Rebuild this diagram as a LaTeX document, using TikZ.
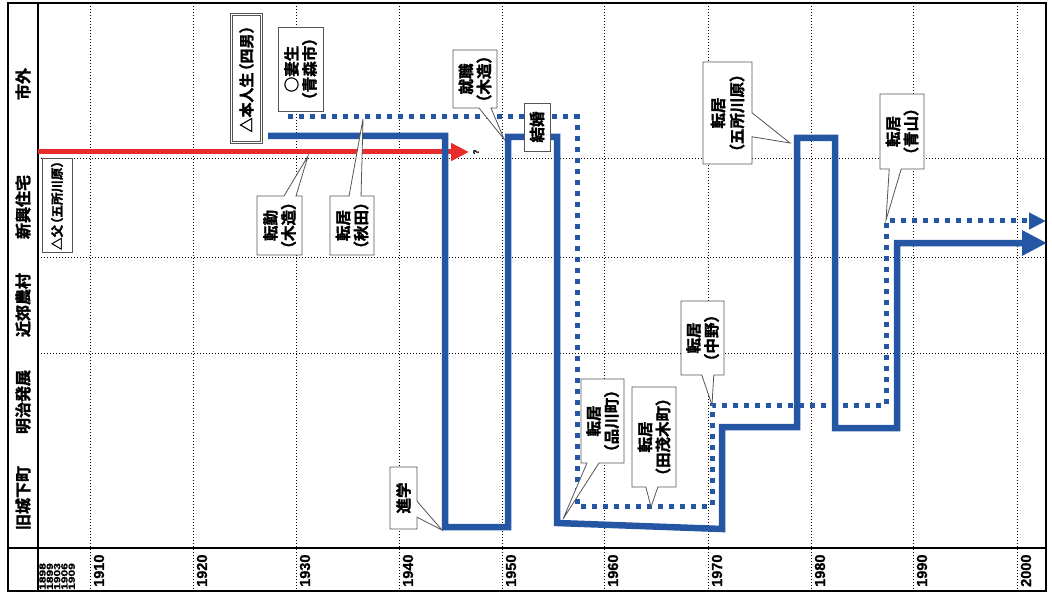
\documentclass[tikz,border=0pt]{standalone}
\usepackage{fontspec}
\usepackage{graphicx}
\usetikzlibrary{arrows.meta,shapes.callouts}
\newfontfamily\jp{Noto Sans CJK JP}[BoldFont={Noto Sans CJK JP Bold}, BoldFeatures={FakeBold=1.8}]
\newfontfamily\numf{Liberation Sans}[BoldFeatures={FakeBold=0.8}]
\definecolor{lifeblue}{RGB}{36,86,164}
\definecolor{lifered}{RGB}{232,44,44}
\definecolor{boxgray}{RGB}{85,85,85}
\newcommand\sy[1]{\scalebox{1}[0.75]{#1}}
\newcommand\lp{\kern-0.4em（}
\newcommand\rp{）\kern-0.4em}
\begin{document}
\begin{tikzpicture}[x=1pt,y=-1pt,
  gridline/.style={line width=0.9pt, dash pattern=on 1.2pt off 1.8pt},
  frameline/.style={line width=2.4pt},
  rowlab/.style={rotate=90, font=\jp\bfseries\fontsize{16}{16}\selectfont, inner sep=0pt},
  yearlab/.style={rotate=90, anchor=west, font=\numf\bfseries\fontsize{14.5}{14.5}\selectfont, inner sep=0pt},
  smallyear/.style={rotate=90, anchor=west, font=\numf\bfseries\fontsize{12}{12}\selectfont, inner sep=0pt},
  solidlife/.style={draw=lifeblue, line width=6.5pt, line join=miter},
  dotlife/.style={draw=lifeblue, line width=5pt, dash pattern=on 5pt off 6pt},
  co/.style={rectangle callout, draw=boxgray, line width=0.8pt, fill=white, inner sep=0pt, callout pointer width=12pt},
  pbox/.style={rectangle, draw=boxgray, line width=0.8pt, fill=white, inner sep=0pt},
  cotext/.style={rotate=90, inner sep=0pt, font=\jp\bfseries\fontsize{15.5}{15.5}\selectfont},
]
\useasboundingbox (0,0) rectangle (1052,596);

% grid
\foreach \x in {90,193,296,399,502,604,708,811,913,1017}
  \draw[gridline] (\x,3) -- (\x,591);
\foreach \y in {158,257,353}
  \draw[gridline] (38,\y) -- (1046,\y);

% frame
\draw[frameline] (8,3) rectangle (1046,591);
\draw[frameline] (38,3) -- (38,591);
\draw[frameline] (8,548) -- (1046,548);

% row labels
\node[rowlab] (r1) at (23,84) {市外};
\node[rowlab] (r2) at (23,207) {新興住宅};
\node[rowlab] (r3) at (23,305) {近郊農村};
\node[rowlab] (r4) at (23,402) {明治発展};
\node[rowlab] (r5) at (23,498) {旧城下町};

% year labels
\node[smallyear] (y1898) at (42.5,590) {\sy{1898}};
\node[smallyear] (y1899) at (49.8,590) {\sy{1899}};
\node[smallyear] (y1903) at (57.1,590) {\sy{1903}};
\node[smallyear] (y1906) at (64.4,590) {\sy{1906}};
\node[smallyear] (y1909) at (71.7,590) {\sy{1909}};
\foreach \x/\t in {90/1910,193/1920,296/1930,399/1940,502/1950,604/1960,708/1970,811/1980,913/1990,1017/2000}
  \node[yearlab] (y\t) at (\x+9,587) {\t};

% father (red)
\coordinate (rs) at (38,152);
\coordinate (re) at (469,152);
\draw[draw=lifered, line width=5pt, -{Triangle[length=18pt,width=17pt]}] (rs) -- (re);
\node[rotate=90, font=\numf\bfseries\fontsize{8}{8}\selectfont, inner sep=0pt] (q) at (476,152) {?};

% self (solid blue)
\coordinate (ss) at (268,136);
\coordinate (se) at (1047,243);
\draw[solidlife, -{Triangle[length=25pt,width=24pt]}] (ss) -- (445,136) -- (445,527) -- (508,527) -- (508,137) -- (557,137) -- (557,523) -- (722,529) -- (722,427) -- (797,427) -- (797,138) -- (835,138) -- (835,428) -- (897,428) -- (897,243) -- (se);

% wife (dotted blue)
\coordinate (ws) at (288,117);
\coordinate (we) at (1046,221);
\draw[dotlife, -{Triangle[length=17pt,width=16pt]}] (ws) -- (577,117) -- (577,506) -- (712,506) -- (712,405) -- (886,405) -- (886,221) -- (we);

% callout tips
\coordinate (tA) at (308,156);
\coordinate (tB) at (363,119);
\coordinate (tC) at (504,139);
\coordinate (tD) at (442,530);
\coordinate (tE) at (563,519);
\coordinate (tF) at (651,507);
\coordinate (tG) at (712,405);
\coordinate (tH) at (790,143);
\coordinate (tI) at (886,220);

% callouts
\node[co, minimum width=45pt, minimum height=59pt, callout absolute pointer={(tA)}] (tenkin) at (279.5,225.5) {};
\node[cotext] (tenkin-a) at ([xshift=-9pt]tenkin.center) {転勤};
\node[cotext] (tenkin-b) at ([xshift=9pt]tenkin.center) {\lp 木造\rp};
\node[co, minimum width=44pt, minimum height=59pt, callout absolute pointer={(tB)}] (akita) at (352,225.5) {};
\node[cotext] (akita-a) at ([xshift=-9pt]akita.center) {転居};
\node[cotext] (akita-b) at ([xshift=9pt]akita.center) {\lp 秋田\rp};
\node[co, minimum width=44pt, minimum height=58pt, callout absolute pointer={(tC)}] (shushoku) at (475,79) {};
\node[cotext] (shushoku-a) at ([xshift=-9pt]shushoku.center) {就職};
\node[cotext] (shushoku-b) at ([xshift=9pt]shushoku.center) {\lp 木造\rp};
\node[co, minimum width=27pt, minimum height=62pt, callout pointer width=16pt, callout absolute pointer={(tD)}] (shingaku) at (403.5,498) {};
\node[cotext] (shingaku-a) at (shingaku.center) {進学};
\node[co, minimum width=43pt, minimum height=84pt, callout absolute pointer={(tE)}] (shinagawa) at (602.5,421) {};
\node[cotext] (shinagawa-a) at ([xshift=-9pt]shinagawa.center) {転居};
\node[cotext] (shinagawa-b) at ([xshift=9pt]shinagawa.center) {\lp 品川町\rp};
\node[co, minimum width=44pt, minimum height=100pt, callout absolute pointer={(tF)}] (tamogi) at (654,437) {};
\node[cotext] (tamogi-a) at ([xshift=-9pt]tamogi.center) {転居};
\node[cotext] (tamogi-b) at ([xshift=9pt]tamogi.center) {\lp 田茂木町\rp};
\node[co, minimum width=43pt, minimum height=74pt, callout absolute pointer={(tG)}] (nakano) at (702.5,338) {};
\node[cotext] (nakano-a) at ([xshift=-9pt]nakano.center) {転居};
\node[cotext] (nakano-b) at ([xshift=9pt]nakano.center) {\lp 中野\rp};
\node[co, minimum width=49pt, minimum height=102pt, callout pointer width=24pt, callout absolute pointer={(tH)}] (goshogawara) at (727.5,113) {};
\node[cotext] (goshogawara-a) at ([xshift=-9.5pt]goshogawara.center) {転居};
\node[cotext] (goshogawara-b) at ([xshift=9.5pt]goshogawara.center) {\lp 五所川原\rp};
\node[co, minimum width=44pt, minimum height=75pt, callout absolute pointer={(tI)}] (aoyama) at (902,131.5) {};
\node[cotext] (aoyama-a) at ([xshift=-9pt]aoyama.center) {転居};
\node[cotext] (aoyama-b) at ([xshift=9pt]aoyama.center) {\lp 青山\rp};

% plain boxes
\node[draw=boxgray, double=white, double distance=1.6pt, line width=1.1pt, fill=white, inner sep=0pt, minimum width=30pt, minimum height=128pt] (honnin) at (246.5,78.5) {};
\node[cotext, font=\jp\bfseries\fontsize{15}{15}\selectfont] (honnin-t) at (honnin.center) {△本人生\kern-0.4em（四男）\kern-0.4em};
\node[pbox, minimum width=45pt, minimum height=84pt] (tsuma) at (300.5,69) {};
\node[cotext] (tsuma-a) at ([xshift=-9pt]tsuma.center) {○妻生};
\node[cotext] (tsuma-b) at ([xshift=9pt]tsuma.center) {\lp 青森市\rp};
\node[pbox, minimum width=26pt, minimum height=48pt] (kekkon) at (537,127) {};
\node[cotext] (kekkon-t) at (kekkon.center) {結婚};
\node[pbox, minimum width=30pt, minimum height=94pt] (chichi) at (57,205) {};
\node[cotext, font=\jp\bfseries\fontsize{12.5}{12.5}\selectfont] (chichi-t) at (chichi.center) {△父\kern-0.4em（五所川原）\kern-0.4em};
\end{tikzpicture}
\end{document}
